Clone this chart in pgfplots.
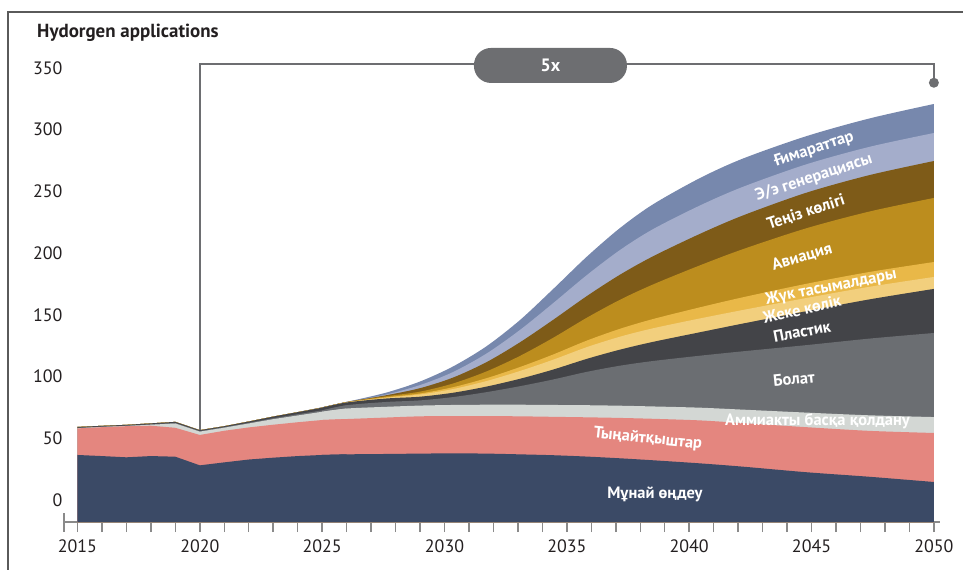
\documentclass[border=0pt]{standalone}
\usepackage{fontspec}
\setmainfont{PT Sans}
\usepackage{pgfplots}
\pgfplotsset{compat=1.18}
\usepackage{pgfplotstable}

\definecolor{cRef}{HTML}{3B4A66}
\definecolor{cFer}{HTML}{E4867F}
\definecolor{cAmm}{HTML}{D3D7D4}
\definecolor{cSte}{HTML}{6B6E72}
\definecolor{cPla}{HTML}{434448}
\definecolor{cPri}{HTML}{F2CF7D}
\definecolor{cFre}{HTML}{E9B848}
\definecolor{cAvi}{HTML}{BC8D1E}
\definecolor{cShi}{HTML}{7E5B18}
\definecolor{cPow}{HTML}{A4ADCB}
\definecolor{cBui}{HTML}{7788AD}
\definecolor{brk}{HTML}{6D6E71}
\definecolor{frame}{HTML}{5A5A5A}
\definecolor{tickc}{HTML}{8A8A8A}
\definecolor{txt}{HTML}{231F20}

% cumulative upper boundaries of each layer (2015-2026, drawn straight)
\pgfplotstableread{
year R F A S P V T Av Sh Pw B
2015 36.5 58.0 58.2 58.5 59.2 59.2 59.2 59.2 59.2 59.2 59.2
2016 35.6 59.0 59.2 59.5 60.1 60.1 60.1 60.1 60.1 60.1 60.1
2017 34.6 59.8 60.0 60.3 60.9 60.9 60.9 60.9 60.9 60.9 60.9
2018 35.6 60.2 61.0 61.4 62.1 62.1 62.1 62.1 62.1 62.1 62.1
2019 35.1 58.5 62.0 62.5 63.3 63.3 63.3 63.3 63.3 63.3 63.3
2020 28.1 52.7 55.4 55.9 56.6 56.6 56.6 56.6 56.6 56.6 56.6
2021 30.5 56.1 58.6 59.1 59.8 59.8 59.8 59.8 59.8 59.8 59.8
2022 32.8 58.8 62.0 62.6 63.6 63.6 63.6 63.6 63.6 63.6 63.6
2023 34.3 61.0 65.5 66.3 67.6 67.6 67.6 67.6 67.6 67.6 67.6
2024 35.6 63.0 68.5 69.5 71.2 71.2 71.2 71.2 71.2 71.2 71.2
2025 36.5 64.8 71.5 72.6 74.8 74.8 74.8 74.9 75.0 75.0 75.1
2026 37.0 65.6 74.1 76.8 79.0 79.1 79.2 79.3 79.4 79.45 79.5
}\early

% cumulative upper boundaries (2025-2050, drawn smooth)
\pgfplotstableread{
year R F A S P V T Av Sh Pw B
2025 36.5 64.8 71.5 72.6 74.8 74.8 74.8 74.9 75.0 75.0 75.1
2026 37.0 65.6 74.1 76.8 79.0 79.1 79.2 79.3 79.4 79.45 79.5
2027.6 37.3 66.8 75.5 79.4 82.2 82.8 83.2 84.0 84.8 85.4 86.9
2029.0 37.6 67.8 76.5 80.7 83.7 85.5 86.3 87.8 90.6 93.1 96.0
2030.35 37.8 68.0 77.0 83.4 86.9 89.9 91.4 94.4 99.2 103.7 108.2
2031.72 37.6 68.0 77.2 87.4 91.9 96.4 98.7 104.2 111.7 118.7 124.6
2033.08 37.0 67.8 77.2 92.2 98.2 104.5 107.7 116.7 127.7 137.7 145.7
2034.43 36.3 67.4 77.0 97.6 105.6 113.6 117.8 131.3 145.8 159.3 170.7
2035.81 35.2 67.0 76.8 103.8 114.3 123.8 129.1 147.6 165.1 182.1 197.0
2037.17 33.8 66.5 76.4 108.8 121.8 132.3 138.7 162.2 182.5 202.5 220.3
2038.52 32.2 65.8 75.8 112.6 128.1 139.1 146.6 174.6 197.4 219.4 239.5
2040.44 29.7 64.5 74.8 116.9 135.9 147.1 156.1 190.1 215.6 238.6 260.8
2042.21 27.0 62.3 73.2 120.5 143.0 154.0 164.3 203.3 230.6 253.8 276.7
2044.80 22.5 59.0 70.8 125.5 153.0 163.7 175.2 220.2 249.0 272.0 294.8
2047.39 18.8 56.0 68.6 130.8 162.6 172.8 184.8 233.8 263.3 286.2 309.2
2050.00 14.6 54.3 67.2 135.3 171.0 180.7 192.8 244.7 274.6 297.3 320.8
}\late

\newcommand{\layer}[2]{%
  \addplot[fill=#2, draw=none] table[x=year,y=#1]{\early} -- (axis cs:2026,-17.8) -- (axis cs:2015,-17.8) -- cycle;
  \addplot[fill=#2, draw=none, smooth] table[x=year,y=#1]{\late} -- (axis cs:2050,-17.8) -- (axis cs:2025,-17.8) -- cycle;
}

\begin{document}
\begin{tikzpicture}
\useasboundingbox (0bp,0bp) rectangle (963bp,570bp);
\draw[frame, line width=1.3bp] (8bp,0bp) -- (8bp,558bp) -- (963bp,558bp);
\node[anchor=west, text=txt, font=\fontsize{19}{21}\selectfont\bfseries, inner sep=0pt] at (37bp,537bp) {Hydorgen applications};

\begin{axis}[
  at={(64bp,48bp)}, anchor=south west,
  scale only axis, width=876bp, height=466.4bp,
  xmin=2014.45, xmax=2050.25, ymin=-17.8, ymax=360,
  clip=false,
  axis x line=bottom, axis y line=left,
  axis line style={-},
  x axis line style={tickc, line width=1.5bp},
  y axis line style={draw=none},
  xtick={2015,2020,...,2050},
  minor xtick={2016,2017,2018,2019,2021,2022,2023,2024,2026,2027,2028,2029,2031,2032,2033,2034,2036,2037,2038,2039,2041,2042,2043,2044,2046,2047,2048,2049},
  ytick={0,50,...,350},
  tick align=outside,
  major tick length=10bp, minor tick length=10bp,
  x tick style={tickc, line width=1.5bp},
  minor x tick style={tickc, line width=1.5bp},
  y tick style={draw=none},
  /pgf/number format/1000 sep={},
  /pgf/number format/assume math mode=true,
  tick label style={text=txt, font=\fontsize{18}{20}\selectfont},
  xticklabel style={yshift=-4bp},
  yticklabel style={xshift=12bp},
]
\layer{B}{cBui}
\layer{Pw}{cPow}
\layer{Sh}{cShi}
\layer{Av}{cAvi}
\layer{T}{cFre}
\layer{V}{cPri}
\layer{P}{cPla}
\layer{S}{cSte}
\layer{A}{cAmm}
\layer{F}{cFer}
\layer{R}{cRef}

% bracket annotation
\draw[brk, line width=1.8bp] (axis cs:2020,56.6) -- (axis cs:2020,353) -- (axis cs:2050,353) -- (axis cs:2050,338);
\fill[brk] (axis cs:2050,338) circle (5bp);
\node[fill=brk, rounded corners=17bp, minimum width=153bp, minimum height=35bp, text=white, font=\fontsize{18}{20}\selectfont\bfseries] at (axis cs:2034.33,352) {5x};

% layer labels
\node[text=white, font=\fontsize{16.5}{18}\selectfont\bfseries, inner sep=0pt] at (axis cs:2038.60,4.9) {Мұнай өңдеу};
\node[text=white, font=\fontsize{16.5}{18}\selectfont\bfseries, inner sep=0pt, rotate=-6] at (axis cs:2038.31,49.4) {Тыңайтқыштар};
\node[text=white, font=\fontsize{16.5}{18}\selectfont\bfseries, inner sep=0pt] at (axis cs:2045.24,64.0) {Аммиакты басқа қолдану};
\node[text=white, font=\fontsize{16.5}{18}\selectfont\bfseries, inner sep=0pt, rotate=6] at (axis cs:2044.28,98.0) {Болат};
\node[text=white, font=\fontsize{16.5}{18}\selectfont\bfseries, inner sep=0pt, rotate=11] at (axis cs:2044.61,136.5) {Пластик};
\node[text=white, font=\fontsize{16.5}{18}\selectfont\bfseries, inner sep=0pt, rotate=13] at (axis cs:2044.61,154.5) {Жеке көлік};
\node[text=white, font=\fontsize{16.5}{18}\selectfont\bfseries, inner sep=0pt, rotate=11] at (axis cs:2045.80,172.3) {Жүк тасымалдары};
\node[text=white, font=\fontsize{16.5}{18}\selectfont\bfseries, inner sep=0pt, rotate=16] at (axis cs:2044.61,196.9) {Авиация};
\node[text=white, font=\fontsize{16.5}{18}\selectfont\bfseries, inner sep=0pt, rotate=18] at (axis cs:2044.77,233.0) {Теңіз көлігі};
\node[text=white, font=\fontsize{16.5}{18}\selectfont\bfseries, inner sep=0pt, rotate=18] at (axis cs:2045.10,261.0) {Э/э генерациясы};
\node[text=white, font=\fontsize{16.5}{18}\selectfont\bfseries, inner sep=0pt, rotate=18] at (axis cs:2045.10,284.0) {Ғимараттар};
\end{axis}
\draw[tickc, line width=1.5bp] (64bp,38bp) -- (64bp,57bp);
\end{tikzpicture}
\end{document}
